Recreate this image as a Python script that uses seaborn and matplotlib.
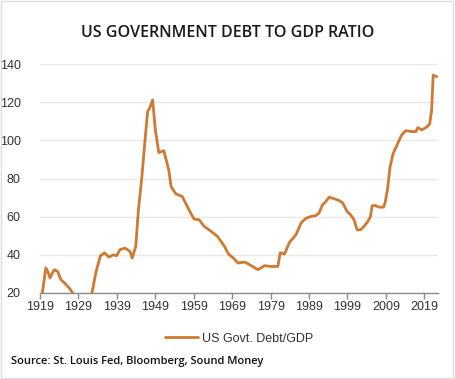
import matplotlib
matplotlib.use("Agg")
import matplotlib.pyplot as plt
import seaborn as sns
import pandas as pd
from matplotlib.patches import Rectangle

years = [1919.0, 1919.6, 1920.5, 1921.0, 1921.6, 1922.1, 1922.7, 1923.6, 1924.4, 1925.4,
         1926.6, 1927.5, 1928.5, 1929.5, 1930.5, 1931.5, 1932.5, 1933.6, 1934.7, 1935.8,
         1936.9, 1938.0, 1938.9, 1939.8, 1941.1, 1942.4, 1943.0, 1943.9, 1944.6, 1945.5,
         1946.4, 1947.0, 1947.7, 1948.3, 1949.0, 1949.9, 1951.2, 1952.5, 1953.1, 1954.3,
         1956.0, 1957.1, 1958.2, 1959.1, 1960.4, 1961.7, 1963.5, 1965.2, 1967.0, 1968.0,
         1969.3, 1970.5, 1972.3, 1974.0, 1975.7, 1977.4, 1979.2, 1980.9, 1981.5, 1982.6,
         1983.9, 1985.6, 1986.9, 1988.2, 1989.5, 1990.8, 1991.6, 1992.5, 1993.4, 1994.2,
         1995.5, 1996.8, 1997.8, 1998.9, 1999.8, 2000.7, 2001.5, 2002.4, 2003.3, 2004.3,
         2005.0, 2005.4, 2006.3, 2007.1, 2008.4, 2008.8, 2009.4, 2010.1, 2010.9, 2011.4,
         2012.3, 2013.1, 2014.2, 2015.7, 2016.8, 2017.3, 2018.3, 2019.6, 2020.4, 2020.9,
         2021.3, 2022.2]
debt_gdp = [15.0, 20.0, 33.1, 31.3, 27.8, 30.0, 32.2, 31.3, 27.0, 25.2,
            22.6, 20.0, 17.5, 16.0, 16.5, 17.5, 20.0, 31.3, 39.5, 41.0,
            38.8, 40.0, 39.5, 42.7, 43.5, 41.8, 38.3, 44.4, 63.6, 81.0,
            102.0, 115.0, 117.7, 121.2, 105.5, 93.6, 94.6, 84.5, 75.8, 72.0,
            70.6, 66.2, 61.9, 58.7, 58.4, 54.9, 52.3, 49.6, 44.4, 40.5,
            38.3, 35.7, 36.2, 34.3, 32.2, 34.3, 33.9, 33.9, 41.1, 40.4,
            46.5, 50.5, 56.6, 59.2, 60.1, 60.6, 61.9, 66.2, 68.0, 70.2,
            69.4, 68.5, 67.1, 62.7, 61.0, 58.4, 53.1, 53.1, 54.9, 57.5,
            60.1, 65.7, 65.9, 65.0, 65.0, 67.4, 74.1, 86.3, 93.3, 95.3,
            99.4, 102.8, 105.1, 104.6, 104.6, 106.7, 105.5, 106.9, 108.6, 115.9,
            134.2, 133.4]
series_name = "US Govt. Debt/GDP"
x_ticks = [1919, 1929, 1939, 1949, 1959, 1969, 1979, 1989, 1999, 2009, 2019]
y_ticks = [20, 40, 60, 80, 100, 120, 140]

df = pd.DataFrame({"Year": years, "Value": debt_gdp, "Series": series_name})

sns.set_theme(style="white")
plt.rcParams["font.family"] = ["Liberation Sans", "DejaVu Sans"]

fig = plt.figure(figsize=(4.55, 3.79), dpi=100)
ax = fig.add_axes([0.088, 0.227, 0.875, 0.604])

line_color = "#CF7A32"
sns.lineplot(data=df, x="Year", y="Value", hue="Series", palette=[line_color],
             linewidth=2.0, ax=ax, legend=True)

ax.set_xlim(1919, 2022.6)
ax.set_ylim(20, 140)
ax.set_xticks(x_ticks)
ax.set_xticklabels([str(t) for t in x_ticks])
ax.set_yticks(y_ticks)
ax.set_yticklabels([str(t) for t in y_ticks])
ax.set_xlabel("")
ax.set_ylabel("")
ax.grid(axis="y", color="#E8E8E8", linewidth=1.0)
ax.set_axisbelow(True)
for s in ["top", "right", "left"]:
    ax.spines[s].set_visible(False)
ax.spines["bottom"].set_color("#8C8C8C")
ax.spines["bottom"].set_linewidth(1.0)
ax.tick_params(axis="x", bottom=True, length=4, width=1, color="#8C8C8C",
               labelsize=9, labelcolor="#333333", pad=2)
ax.tick_params(axis="y", left=False, labelsize=9, labelcolor="#333333", pad=8)

leg = ax.legend(loc="upper center", bbox_to_anchor=(0.5, -0.125), frameon=False,
                fontsize=9, handlelength=2.6, handletextpad=0.3)
for t in leg.get_texts():
    t.set_color("#333333")

fig.text(0.5, 0.913, "US GOVERNMENT DEBT TO GDP RATIO", ha="center", va="center",
         fontsize=11.5, fontweight="semibold", family=["Open Sans", "DejaVu Sans"], color="#1A1A1A")
fig.text(0.024, 0.045, "Source: St. Louis Fed, Bloomberg, Sound Money", ha="left", va="center",
         fontsize=8, fontweight="semibold", family=["Open Sans", "DejaVu Sans"], color="#111111")

fig.patches.append(Rectangle((0.002, 0.003), 0.994, 0.994, transform=fig.transFigure,
                             fill=False, edgecolor="#DDDDDD", linewidth=1.0))

fig.savefig("out.png", dpi=100)
